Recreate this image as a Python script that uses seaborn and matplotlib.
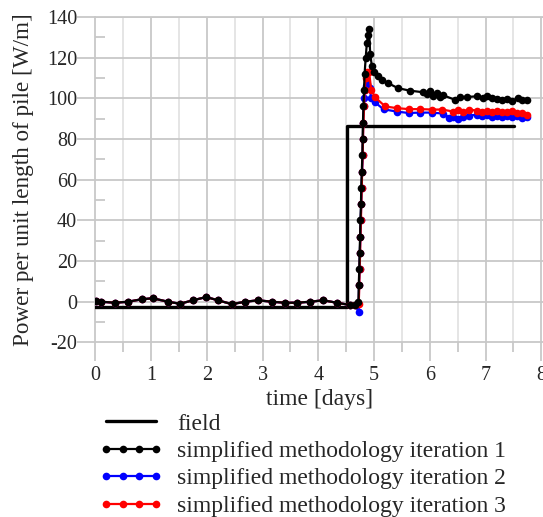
import numpy as np
import pandas as pd
import matplotlib
matplotlib.use("Agg")
import matplotlib.pyplot as plt
import seaborn as sns
from matplotlib.lines import Line2D
from matplotlib.ticker import MultipleLocator

sns.set_style("white")
plt.rcParams['font.family'] = ['Liberation Serif', 'DejaVu Serif']
plt.rcParams['axes.unicode_minus'] = False

# ---------------- data ----------------
field_t = [0.0, 4.52, 4.52, 7.51]
field_p = [-2.5, -2.5, 86.5, 86.5]

low_t = [0.02, 0.11, 0.35, 0.59, 0.83, 1.03, 1.30, 1.52, 1.75, 1.99, 2.20,
         2.45, 2.69, 2.92, 3.17, 3.40, 3.62, 3.85, 4.09, 4.33, 4.57]
low_p = [0.3, 0.0, -0.5, 0.0, 1.2, 1.7, 0.0, -1.0, 0.7, 2.3, 0.7,
         -1.2, 0.0, 0.7, 0.0, -0.5, -0.5, 0.0, 0.7, -0.5, -1.6]

it1_t = low_t + [4.66, 4.72, 4.725, 4.735, 4.74, 4.75, 4.755, 4.765, 4.77, 4.78,
                 4.79, 4.795, 4.80, 4.81, 4.82, 4.83, 4.85, 4.87, 4.89, 4.91,
                 4.93, 4.96, 5.00, 5.07, 5.15, 5.25, 5.43, 5.64, 5.88, 5.95,
                 6.00, 6.06, 6.12, 6.18, 6.24, 6.45, 6.55, 6.67, 6.85, 6.95,
                 7.03, 7.12, 7.21, 7.30, 7.39, 7.48, 7.58, 7.66, 7.75]
it1_p = low_p + [-1.5, 0.0, 8, 16, 24, 32, 40, 48, 56, 64,
                 72, 80, 88, 96, 104, 112, 120, 127, 131, 134,
                 122, 116, 113, 111, 109, 107.5, 105, 103.8, 103, 102,
                 103.5, 101, 102.5, 100.5, 101.5, 99.3, 100.5, 100.7, 101, 100.3,
                 101.3, 100.2, 99.8, 99.2, 99.8, 98.8, 100, 99.0, 99.3]

it2_t = low_t + [4.66, 4.725, 4.73, 4.74, 4.745, 4.755, 4.76, 4.77, 4.775, 4.785,
                 4.795, 4.80, 4.805, 4.815, 4.825, 4.835, 4.86, 4.88, 4.92,
                 4.95, 5.02, 5.17, 5.41, 5.62, 5.83, 6.04, 6.24, 6.35, 6.42,
                 6.50, 6.60, 6.70, 6.84, 6.93, 7.02, 7.11, 7.20, 7.29, 7.38,
                 7.47, 7.56, 7.65, 7.75]
it2_p = low_p + [-1.5, -5.0, 8, 16, 24, 32, 40, 48, 56, 64,
                 72, 80, 88, 96, 100, 104, 106, 107, 105,
                 100, 98, 94.6, 93.5, 92.8, 93, 93, 92.5, 90.5, 91,
                 89.8, 90.8, 91.5, 92, 91.2, 92, 91, 91.5, 90.6, 91.5,
                 90.8, 91.5, 90.5, 91]

it3_t = low_t + [4.66, 4.725, 4.735, 4.74, 4.75, 4.755, 4.765, 4.77, 4.78, 4.785,
                 4.795, 4.80, 4.81, 4.82, 4.83, 4.85, 4.87, 4.91,
                 4.95, 5.02, 5.20, 5.41, 5.62, 5.83, 6.04, 6.22, 6.42, 6.50,
                 6.60, 6.70, 6.84, 6.93, 7.02, 7.11, 7.20, 7.29, 7.38, 7.47,
                 7.56, 7.65, 7.75]
it3_p = low_p + [-1.5, -1.0, 8, 16, 24, 32, 40, 48, 56, 64,
                 72, 80, 88, 96, 104, 110, 113, 113,
                 104, 100.5, 96, 95.2, 94.7, 94.7, 94.5, 94.5, 93.5, 94.2,
                 93.5, 94.5, 94, 93.2, 94, 93.4, 94, 93.2, 93.5, 93.8,
                 92.8, 92.6, 92]

labels = ["field",
          "simplified methodology iteration 1",
          "simplified methodology iteration 2",
          "simplified methodology iteration 3"]
colors = ["black", "black", "blue", "red"]

x_ticks = [0, 1, 2, 3, 4, 5, 6, 7, 8]
y_ticks = [-20, 0, 20, 40, 60, 80, 100, 120, 140]

# ---------------- figure ----------------
fig = plt.figure(figsize=(5.43, 5.17), dpi=100)
ax = fig.add_axes([95.3 / 543, (517 - 342.4) / 517, (543 - 95.3) / 543, (342.4 - 17) / 517])

grid_major = "#c8c8c8"
grid_minor = "#e0e0e0"
ax.set_xlim(0, 8.03)
ax.set_ylim(-20, 140)
ax.set_xticks(x_ticks)
ax.set_yticks(y_ticks)
ax.xaxis.set_minor_locator(MultipleLocator(0.5))
ax.yaxis.set_minor_locator(MultipleLocator(10))
ax.grid(False)
for xv in np.arange(0.5, 8.0, 1.0):
    ax.axvline(xv, color=grid_minor, lw=1.2, zorder=0)
for xv in x_ticks[1:]:
    ax.axvline(xv, color=grid_major, lw=1.3, zorder=0)
for yv in y_ticks[1:]:
    ax.axhline(yv, color=grid_major, lw=1.3, zorder=0)

for sp in ["left", "bottom", "top"]:
    ax.spines[sp].set_color(grid_major)
    ax.spines[sp].set_linewidth(1.3)
ax.spines["right"].set_visible(False)

ax.tick_params(axis="x", which="both", bottom=True, top=False)
ax.tick_params(axis="y", which="both", left=True, right=False)
ax.tick_params(axis="x", which="major", direction="out", length=14, width=1.3,
               color=grid_major, labelsize=14.5, pad=3)
ax.tick_params(axis="x", which="minor", direction="out", length=7, width=1.3,
               color=grid_major)
ax.tick_params(axis="y", which="major", direction="out", length=13, width=1.3,
               color=grid_major, labelsize=14.5, pad=0)
ax.tick_params(axis="y", which="minor", direction="in", length=7, width=1.3,
               color=grid_major)

# field
sns.lineplot(x=field_t, y=field_p, ax=ax, color="black", lw=2.4, sort=False,
             estimator=None, zorder=3)
# simulations
for tt, pp, c, z in [(it2_t, it2_p, "blue", 4), (it3_t, it3_p, "red", 5),
                     (it1_t, it1_p, "black", 6)]:
    df = pd.DataFrame({"t": tt, "p": pp})
    sns.lineplot(data=df, x="t", y="p", ax=ax, color=c, lw=1.6, marker="o",
                 markersize=5.5, markeredgewidth=0, sort=False, estimator=None,
                 zorder=z)

ax.set_xlabel("time [days]", fontsize=17, labelpad=3)
ax.set_ylabel("Power per unit length of pile [W/m]", fontsize=16.7, labelpad=9)

handles = [Line2D([], [], color="black", lw=2.4)]
for c in colors[1:]:
    handles.append(Line2D([], [], color=c, lw=1.6, marker="o", markersize=5.5,
                          markeredgewidth=0))
fig.legend(handles, labels, loc="upper left", bbox_to_anchor=(99 / 543, 1 - 413 / 517),
           frameon=False, fontsize=17, numpoints=4, handlelength=2.7,
           handletextpad=0.6, labelspacing=0.25, borderaxespad=0, borderpad=0)

fig.savefig("out.png", dpi=100)
